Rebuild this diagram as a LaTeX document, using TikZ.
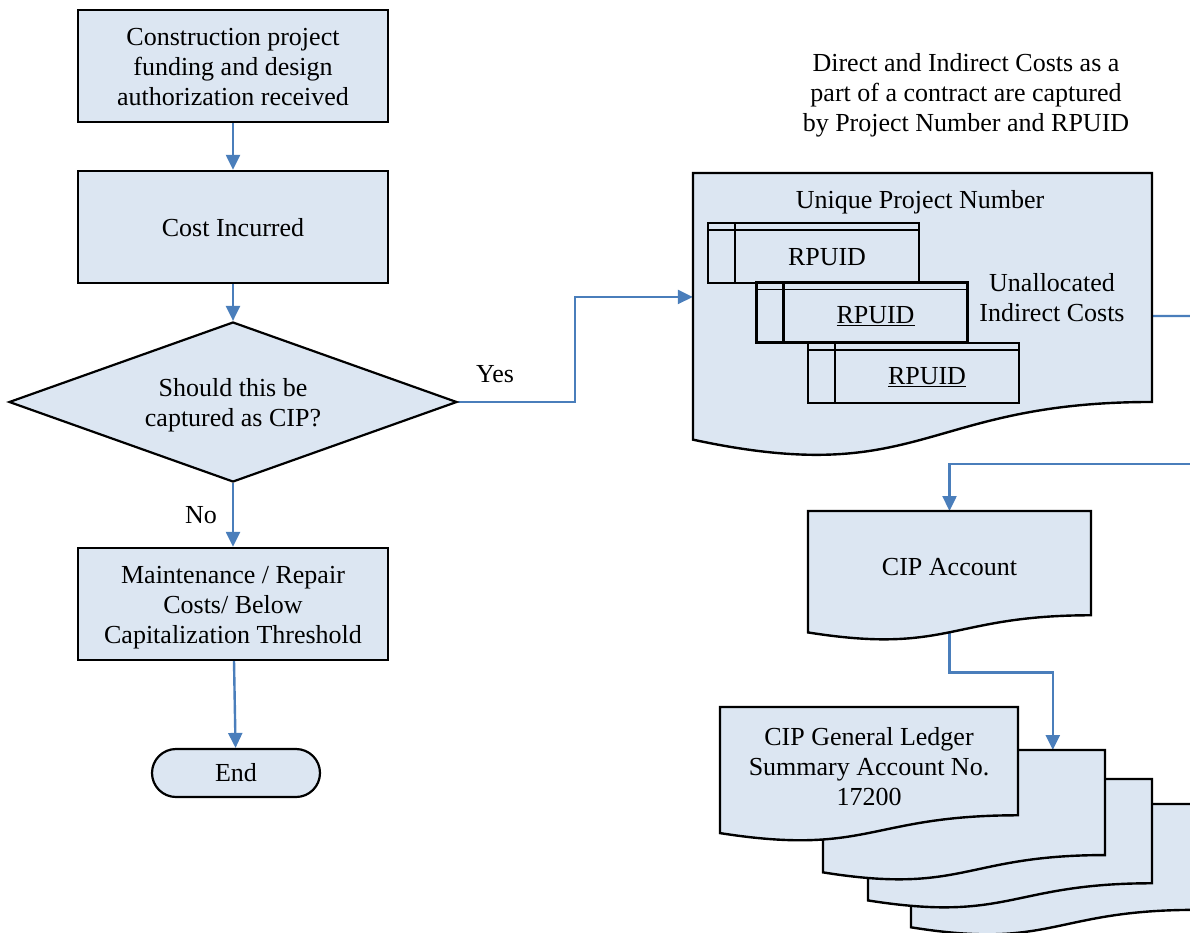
\documentclass[tikz,border=0pt]{standalone}
\usepackage{fontspec}
\setmainfont{Liberation Serif}
\usetikzlibrary{arrows.meta,shapes.geometric,calc}

\pgfdeclarelayer{links}
\pgfdeclarelayer{sheets}
\pgfsetlayers{links,sheets,main}

\definecolor{boxfill}{HTML}{DCE6F2}
\definecolor{linkblue}{HTML}{4A7EBB}

% Document sheet with a wavy bottom edge: left x, top y, width, height
\newcommand{\sheet}[4]{%
  \begin{pgfonlayer}{sheets}
    \draw[sheetline] (#1,#2) -- (#1+#3,#2) -- (#1+#3,#2+0.802*#4)
      .. controls (#1+0.5*#3,#2+0.802*#4) and (#1+0.5*#3,#2+1.107*#4) .. (#1,#2+0.934*#4) -- cycle;
  \end{pgfonlayer}}

% Label of a record box, set right of its index column
\newcommand{\rp}[1]{\hspace*{27pt}\raisebox{-4pt}[\height][\depth]{#1}}
% Text block lowered a little inside its box
\newcommand{\low}[1]{\raisebox{-3pt}[\height][\depth]{\begin{tabular}{@{}c@{}}#1\end{tabular}}}

\tikzset{
  every node/.style={font=\fontsize{26}{30}\selectfont},
  procbox/.style={draw, line width=2.4pt, fill=boxfill, minimum width=310,
    minimum height=112, align=center, inner sep=2pt},
  decision/.style={diamond, draw, line width=2.2pt, fill=boxfill, minimum width=448,
    minimum height=160, inner sep=0pt, aspect=2.8, align=center},
  terminal/.style={draw, line width=2.2pt, fill=boxfill, rounded corners=24pt,
    minimum width=168, minimum height=48, inner sep=0pt},
  sheetline/.style={draw, line width=2.4pt, fill=boxfill, line join=miter},
  ghost/.style={inner sep=0pt, align=center},
  record/.style={draw, line width=2.4pt, fill=boxfill, minimum width=211,
    minimum height=60, inner sep=0pt,
    path picture={
      \draw[line width=1.2pt] ([yshift=-7pt]path picture bounding box.north west)
        -- ([yshift=-7pt]path picture bounding box.north east);
      \draw[line width=2.4pt] ([xshift=27pt]path picture bounding box.north west)
        -- ([xshift=27pt]path picture bounding box.south west);}},
  link/.style={draw=linkblue, line width=2.4pt, -{Triangle[length=15pt,width=14pt]}},
  plainlink/.style={draw=linkblue, line width=2.4pt}
}

\begin{document}
\begin{tikzpicture}[x=1pt, y=-1pt]
\useasboundingbox (0,0) rectangle (1190,932);

% Left column: decision flow
\node[procbox] (start) at (233,66) {\low{Construction project\\funding and design\\authorization received}};
\node[procbox] (cost) at (233,227) {\low{Cost Incurred}};
\node[decision] (ask) at (233,402) {\low{Should this be\\captured as CIP?}};
\node[procbox] (maint) at (233,604) {\low{Maintenance / Repair\\Costs/ Below\\Capitalization Threshold}};
\node[terminal] (finish) at (236,773) {End};

% Right column: capture and posting
\node[ghost] (note) at (966,95) {Direct and Indirect Costs as a\\part of a contract are captured\\by Project Number and RPUID};

\sheet{693}{173}{459}{285.5}
\node[ghost, minimum width=459, minimum height=285.5, anchor=north] (proj) at (922.5,173) {};
\node[ghost] (upn) at (920,202) {Unique Project Number};
\node[record] (ra) at (813.5,253) {\rp{RPUID}};
\node[record] (rb) at (862,312.5) {\rp{\underline{RPUID}}};
\node[record] (rc) at (913.5,373) {\rp{\underline{RPUID}}};
\node[ghost] (unalloc) at (1052,298) {Unallocated\\Indirect Costs};

\sheet{808}{511}{283}{130}
\node[ghost, minimum width=283, minimum height=112, anchor=north] (cip) at (949.5,511) {CIP Account};

% Ledger stack, back to front
\sheet{911}{804}{284}{132}
\sheet{868}{779}{284}{130}
\sheet{823}{750}{282}{131}
\node[ghost, minimum width=282, minimum height=115, anchor=north] (l2) at (964,750) {};
\sheet{720}{707}{298}{135}
\node[ghost, minimum width=298, minimum height=118, anchor=north] (ledger) at (869,707)
  {CIP General Ledger\\Summary Account No.\\17200};

\coordinate (outR) at (1190,316);
\coordinate (inR) at (1190,464);

% Connectors
\begin{pgfonlayer}{links}
\draw[link] (start) -- (cost);
\draw[link] (cost) -- (ask);
\draw[link] (ask) -- node[midway, xshift=-32pt] (no) {No} (maint);
\draw[link] (maint) -- (finish);
\draw[link] (ask.east) -- node[pos=0.316, yshift=28pt] (yes) {Yes} ++(117,0)
  |- ([yshift=19pt]proj.west);
\draw[plainlink] (proj.east) -- (outR);
\draw[link] (inR) -| (cip.north);
\draw[link] (cip.south) -- ++(0,49) -| ([xshift=230pt]l2.north west);
\end{pgfonlayer}
\end{tikzpicture}
\end{document}
